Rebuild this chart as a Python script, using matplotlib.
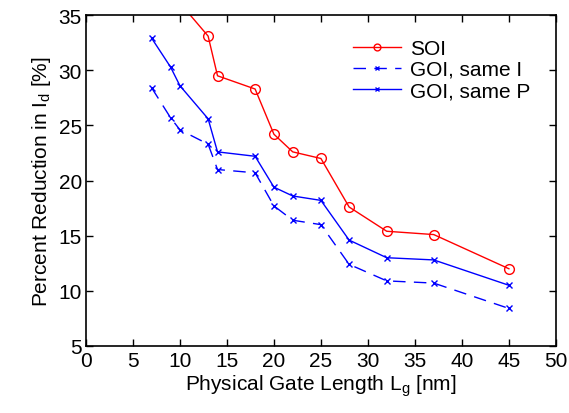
import matplotlib
matplotlib.use("Agg")
import matplotlib.pyplot as plt

plt.rcParams['font.family'] = ['Liberation Sans', 'DejaVu Sans']
plt.rcParams['mathtext.fontset'] = 'custom'
plt.rcParams['mathtext.rm'] = 'Liberation Sans'

lg_soi = [10, 13, 14, 18, 20, 22, 25, 28, 32, 37, 45]
soi = [36.1, 33.1, 29.5, 28.3, 24.2, 22.6, 22.0, 17.6, 15.4, 15.1, 12.0]

lg_goi = [7, 9, 10, 13, 14, 18, 20, 22, 25, 28, 32, 37, 45]
goi_same_i = [28.4, 25.7, 24.6, 23.3, 21.0, 20.7, 17.7, 16.4, 16.0, 12.4, 10.9, 10.7, 8.4]
goi_same_p = [32.9, 30.3, 28.6, 25.6, 22.6, 22.2, 19.4, 18.6, 18.2, 14.6, 13.0, 12.8, 10.5]

fig = plt.figure(figsize=(5.69, 4.14), dpi=100)
ax = fig.add_axes([0.151, 0.162, 0.826, 0.799])

ax.plot(lg_soi, soi, color='red', lw=1, marker='o', ms=7, mfc='none', mew=1, label='SOI')
ax.plot(lg_goi, goi_same_i, color='blue', lw=1, marker='x', ms=4.5, mew=1,
        dashes=(9, 6), label='GOI, same I')
ax.plot(lg_goi, goi_same_p, color='blue', lw=1, marker='x', ms=4.5, mew=1, label='GOI, same P')

ax.set_xlim(0, 50)
ax.set_ylim(5, 35)
ax.set_xticks(range(0, 51, 5))
ax.set_yticks(range(5, 36, 5))
ax.tick_params(direction='in', top=True, right=True, labelsize=15, length=5, width=1, pad=3)
ax.tick_params(axis='x', pad=4)
for s in ax.spines.values():
    s.set_linewidth(1.2)

ax.set_xlabel('Physical Gate Length L$_\\mathregular{g}$ [nm]', fontsize=15, labelpad=1)
ax.set_ylabel('Percent Reduction in I$_\\mathregular{d}$ [%]', fontsize=15, labelpad=4)

leg = ax.legend(loc='upper right', bbox_to_anchor=(0.985, 0.985), frameon=False, fontsize=15,
                handlelength=2.3, handletextpad=0.4, labelspacing=0.1, markerscale=0.7)

fig.savefig('out.png', dpi=100)
